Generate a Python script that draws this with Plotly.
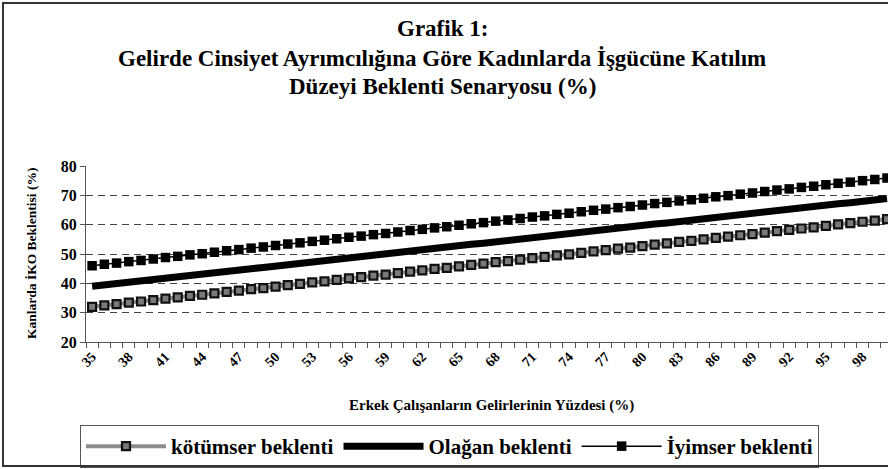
import plotly.graph_objects as go

# ---------------- data ----------------
categories = [35, 36, 37, 38, 39, 40, 41, 42, 43, 44, 45, 46, 47, 48, 49, 50, 51, 52, 53, 54,
              55, 56, 57, 58, 59, 60, 61, 62, 63, 64, 65, 66, 67, 68, 69, 70, 71, 72, 73, 74,
              75, 76, 77, 78, 79, 80, 81, 82, 83, 84, 85, 86, 87, 88, 89, 90, 91, 92, 93, 94,
              95, 96, 97, 98, 99, 100]

kotumser = [32.0, 32.5, 32.9, 33.4, 33.8, 34.3, 34.8, 35.2, 35.7, 36.1, 36.6, 37.1, 37.5, 38.0,
            38.4, 38.9, 39.4, 39.8, 40.3, 40.7, 41.2, 41.7, 42.1, 42.6, 43.0, 43.5, 44.0, 44.4,
            44.9, 45.3, 45.8, 46.3, 46.7, 47.2, 47.6, 48.1, 48.6, 49.0, 49.5, 49.9, 50.4, 50.9,
            51.3, 51.8, 52.2, 52.7, 53.2, 53.6, 54.1, 54.5, 55.0, 55.5, 55.9, 56.4, 56.8, 57.3,
            57.8, 58.2, 58.7, 59.1, 59.6, 60.1, 60.5, 61.0, 61.4, 61.9]

olagan = [39.0, 39.5, 39.9, 40.4, 40.8, 41.3, 41.8, 42.2, 42.7, 43.1, 43.6, 44.1, 44.5, 45.0,
          45.4, 45.9, 46.4, 46.8, 47.3, 47.7, 48.2, 48.7, 49.1, 49.6, 50.0, 50.5, 51.0, 51.4,
          51.9, 52.3, 52.8, 53.3, 53.7, 54.2, 54.6, 55.1, 55.6, 56.0, 56.5, 56.9, 57.4, 57.9,
          58.3, 58.8, 59.2, 59.7, 60.2, 60.6, 61.1, 61.5, 62.0, 62.5, 62.9, 63.4, 63.8, 64.3,
          64.8, 65.2, 65.7, 66.1, 66.6, 67.1, 67.5, 68.0, 68.4, 68.9]

iyimser = [46.0, 46.5, 46.9, 47.4, 47.8, 48.3, 48.8, 49.2, 49.7, 50.1, 50.6, 51.1, 51.5, 52.0,
           52.4, 52.9, 53.4, 53.8, 54.3, 54.7, 55.2, 55.7, 56.1, 56.6, 57.0, 57.5, 58.0, 58.4,
           58.9, 59.3, 59.8, 60.3, 60.7, 61.2, 61.6, 62.1, 62.6, 63.0, 63.5, 63.9, 64.4, 64.9,
           65.3, 65.8, 66.2, 66.7, 67.2, 67.6, 68.1, 68.5, 69.0, 69.5, 69.9, 70.4, 70.8, 71.3,
           71.8, 72.2, 72.7, 73.1, 73.6, 74.1, 74.5, 75.0, 75.4, 75.9]

x_tick_vals = [35, 38, 41, 44, 47, 50, 53, 56, 59, 62, 65, 68, 71, 74, 77, 80, 83, 86, 89, 92, 95, 98]
x_tick_text = ["35", "38", "41", "44", "47", "50", "53", "56", "59", "62", "65",
               "68", "71", "74", "77", "80", "83", "86", "89", "92", "95", "98"]
y_tick_vals = [20, 30, 40, 50, 60, 70, 80]

series_names = ["kötümser beklenti", "Olağan beklenti", "İyimser beklenti"]

title_lines = ["Grafik 1:",
               "Gelirde Cinsiyet Ayrımcılığına Göre Kadınlarda İşgücüne Katılım",
               "Düzeyi Beklenti Senaryosu (%)"]
x_title = "Erkek Çalışanların Gelirlerinin Yüzdesi (%)"
y_title = "Kanlarda İKO Beklentisi (%)"

# ---------------- layout geometry (pixels) ----------------
W, H = 888, 469
L, R, T, B = 86, 0, 166, 127
PW, PH = W - L - R, H - T - B


def px_x(X):
    return (X - L) / PW


def px_y(Y):
    return (H - B - Y) / PH


FONT = "Liberation Serif, Times New Roman, serif"

fig = go.Figure()

fig.add_trace(go.Scatter(
    x=categories, y=kotumser, name=series_names[0], mode="lines+markers",
    line=dict(color="#8c8c8c", width=4),
    marker=dict(symbol="square", size=8, color="#7a7a7a", line=dict(color="#111111", width=2.2)),
))
fig.add_trace(go.Scatter(
    x=categories, y=olagan, name=series_names[1], mode="lines",
    line=dict(color="black", width=7),
))
fig.add_trace(go.Scatter(
    x=categories, y=iyimser, name=series_names[2], mode="lines+markers",
    line=dict(color="black", width=1.5),
    marker=dict(symbol="square", size=9.5, color="black"),
))

annotations = []
for txt, yy in zip(title_lines, [28, 58, 87]):
    annotations.append(dict(
        text=txt, x=px_x(442), y=px_y(yy), xref="paper", yref="paper",
        xanchor="center", yanchor="middle", showarrow=False,
        font=dict(family=FONT, size=23, color="black", weight="bold"),
    ))
annotations.append(dict(
    text=x_title, x=px_x(491), y=px_y(405), xref="paper", yref="paper",
    xanchor="center", yanchor="middle", showarrow=False,
    font=dict(family=FONT, size=15, color="black", weight="bold"),
))
annotations.append(dict(
    text=y_title, x=px_x(31), y=px_y(254), xref="paper", yref="paper",
    xanchor="center", yanchor="middle", showarrow=False, textangle=-90,
    font=dict(family=FONT, size=13.5, color="black", weight="bold"),
))

fig.update_layout(
    width=W, height=H,
    margin=dict(l=L, r=R, t=T, b=B, pad=0),
    paper_bgcolor="white", plot_bgcolor="white",
    font=dict(family=FONT, color="black"),
    showlegend=True,
    legend=dict(
        orientation="h", x=px_x(80), y=px_y(425), xanchor="left", yanchor="top",
        bordercolor="#555555", borderwidth=1, bgcolor="white",
        font=dict(family=FONT, size=21, color="black", weight="bold"),
        itemwidth=80, tracegroupgap=0,
    ),
    annotations=annotations,
)

fig.update_xaxes(
    range=[34.5, 100.08], tickmode="array", tickvals=x_tick_vals, ticktext=x_tick_text,
    tickangle=-45, ticks="", showgrid=False, zeroline=False,
    showline=True, linecolor="#555555", linewidth=1,
    tickfont=dict(family=FONT, size=14, color="black", weight="bold"),
    minor=dict(tickmode="linear", tick0=34.5, dtick=1, ticks="outside", ticklen=5,
               tickcolor="#555555", tickwidth=1, showgrid=False),
)
fig.update_yaxes(
    range=[20, 80], tickmode="array", tickvals=y_tick_vals,
    ticks="outside", ticklen=5, tickcolor="#555555",
    showgrid=True, gridcolor="#444444", gridwidth=1, griddash="7px,5px",
    zeroline=False, showline=True, linecolor="#555555", linewidth=1,
    tickfont=dict(family=FONT, size=16, color="black", weight="bold"),
)

post = (
    "document.body.style.margin='0';document.body.style.padding='0';"
    "document.body.style.overflow='hidden';"
    "var b=document.createElement('div');"
    "b.style.cssText='position:absolute;left:2px;top:2px;width:900px;height:465px;"
    "border:2px solid #333;border-right:none;pointer-events:none;z-index:10;box-sizing:border-box;';"
    "document.body.appendChild(b);"
)
fig.write_html("out.html", config={"displayModeBar": False}, post_script=post)
